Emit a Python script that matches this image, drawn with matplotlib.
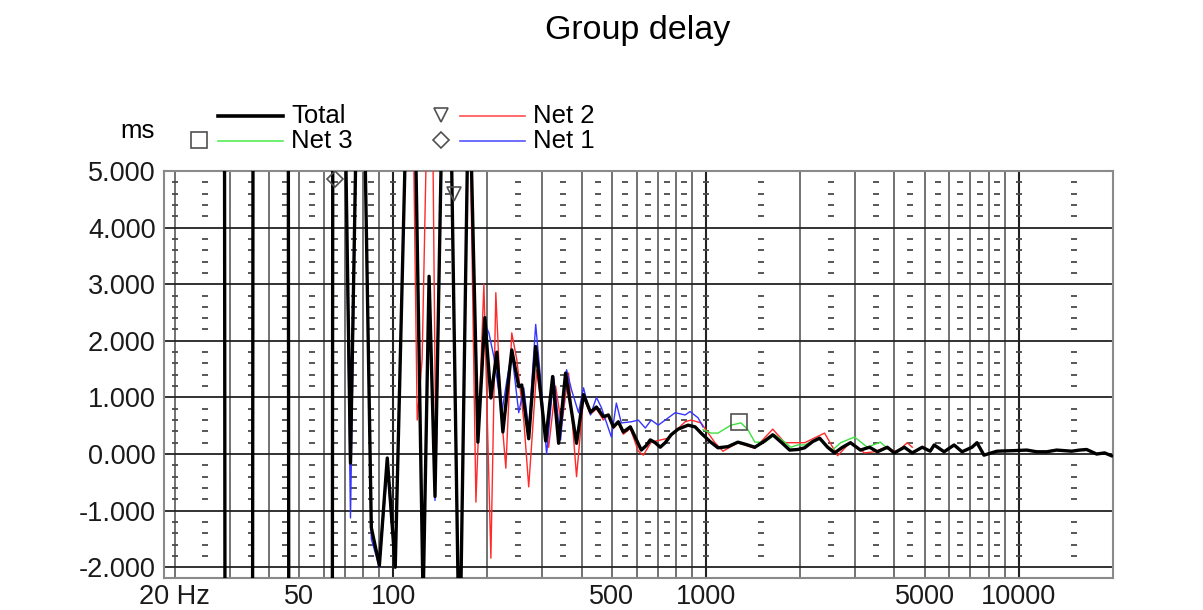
import numpy as np
import matplotlib.pyplot as plt
from matplotlib.lines import Line2D
from matplotlib.ticker import NullLocator

plt.rcParams['font.family'] = ['Liberation Sans', 'DejaVu Sans']

# Data (Hz, ms). +-40 / 6..8 mean the curve runs off scale.
freq_total = [18.5, 28.5, 29.4, 35.0, 36.1, 45.6, 47.0, 63.0, 64.9, 69.3,
              73.0, 77.4, 80.9, 85.1, 90.3, 95.7, 101.5, 110.0, 117.5, 124.6,
              130.2, 136.0, 144.3, 151.9, 162.9, 174.6, 186.5, 196.3, 205.2, 214.4,
              224.1, 239.3, 251.9, 257.5, 271.1, 285.4, 307.2, 323.3, 337.9, 355.6,
              385.5, 405.8, 427.1, 446.3, 469.8, 487.3, 505.5, 524.3, 543.9, 572.8,
              620.9, 644.2, 663.3, 688.0, 713.7, 740.4, 773.4, 814.3, 876.2, 922.6,
              964.1, 1030, 1092, 1175, 1264, 1341, 1432, 1530, 1634, 1746,
              1851, 1963, 2067, 2192, 2308, 2447, 2576, 2731, 2896, 3116,
              3330, 3531, 3798, 3998, 4303, 4563, 4911, 5207, 5362, 5769,
              6209, 6583, 7084, 7349, 7736, 8509, 9640, 10600, 11410, 12280,
              13210, 14750, 15640, 16470, 17720, 18790, 19780]
total_ms = [40, 40, -40, -40, 40, 40, -40, -40, 40, 8,
            -0.16, 8, 6, -1.3, -1.97, -0.07, -2.0, 6, 6, -2.6,
            3.14, -0.75, 7, 7, -4, 7, 0.21, 2.41, 0.99, 1.8,
            0.39, 1.84, 1.19, 1.22, 0.27, 1.9, 0.23, 1.37, 0.19, 1.43,
            0.19, 1.05, 0.74, 0.83, 0.66, 0.69, 0.48, 0.57, 0.39, 0.48,
            0.07, 0.15, 0.25, 0.2, 0.12, 0.2, 0.34, 0.44, 0.51, 0.48,
            0.37, 0.22, 0.11, 0.13, 0.21, 0.17, 0.12, 0.22, 0.34, 0.2,
            0.07, 0.08, 0.11, 0.22, 0.28, 0.12, 0.02, 0.12, 0.2, 0.07,
            0.12, 0.04, 0.12, 0.02, 0.12, 0.02, 0.12, 0.05, 0.16, 0.04,
            0.16, 0.04, 0.12, 0.2, -0.02, 0.05, 0.06, 0.07, 0.04, 0.04,
            0.07, 0.05, 0.07, 0.08, 0.0, 0.02, -0.03]

freq_net2 = [18.5, 28.5, 29.4, 35.0, 36.1, 45.6, 47.0, 63.0, 64.9, 69.3,
             73.0, 77.4, 80.9, 85.1, 90.3, 95.7, 101.5, 110.0, 115.8, 119.3,
             123.7, 129.3, 133.1, 137.0, 144.3, 151.9, 162.9, 174.6, 183.8, 194.9,
             205.2, 212.8, 220.8, 229.1, 239.3, 248.3, 261.4, 271.1, 287.5, 298.2,
             313.9, 330.5, 345.3, 363.5, 385.5, 405.8, 427.1, 446.3, 469.8, 487.3,
             505.5, 524.3, 543.9, 572.8, 607.4, 630.2, 668.0, 756.8, 857.4, 895.8,
             964.1, 1068, 1133, 1264, 1432, 1634, 1785, 2067, 2393, 2633,
             2896, 3209, 3453, 3716, 4087, 4399, 4563]
net2_ms = [40, 40, -40, -40, 40, 40, -40, -40, 40, 8,
           -0.3, 8, 6, -1.3, -1.97, -0.1, -2.0, 6, 6, 0.6,
           1.67, 7, 7, -0.4, 7, 7, -4, 7, -0.85, 3.0,
           -1.84, 2.85, 0.83, -0.25, 2.14, 1.67, 0.6, -0.58, 1.49, 0.82,
           0.12, 1.2, 0.5, 1.43, -0.4, 1.0, 0.7, 0.8, 0.6, 0.7,
           0.45, 0.55, 0.35, 0.45, 0.05, -0.02, 0.21, 0.28, 0.57, 0.6,
           0.55, 0.2, 0.05, 0.2, 0.1, 0.44, 0.2, 0.2, 0.37, -0.03,
           0.21, 0.02, 0.04, 0.11, 0.04, 0.2, 0.12]

freq_net1 = [18.5, 28.5, 29.4, 35.0, 36.1, 45.6, 47.0, 63.0, 64.9, 69.3,
             73.0, 77.4, 80.9, 85.1, 90.3, 95.7, 101.5, 110.0, 117.5, 124.6,
             130.2, 136.0, 144.3, 151.9, 162.9, 174.6, 186.5, 196.3, 202.2, 209.7,
             222.4, 230.8, 239.3, 251.9, 261.4, 271.1, 285.4, 296.0, 309.3, 325.7,
             342.8, 358.2, 371.7, 391.2, 405.8, 427.1, 446.3, 462.9, 498.2, 516.8,
             536.1, 577.0, 607.4, 639.5, 668.0, 703.4, 740.4, 796.7, 857.4, 889.2,
             943.0, 978.1]
net1_ms = [40, 40, -40, -40, 40, 40, -40, -40, 40, 8,
           -1.13, 8, 6, -1.5, -2.0, -0.3, -2.0, 6, 6, -2.6,
           3.0, -0.82, 7, 7, -4, 7, 0.25, 2.3, 2.14, 1.72,
           0.73, 1.3, 1.8, 0.73, 1.17, 0.43, 2.29, 1.31, 0.0, 1.37,
           0.25, 1.49, 1.13, 0.73, 1.17, 0.69, 1.0, 0.82, 0.3, 0.9,
           0.55, 0.57, 0.6, 0.46, 0.6, 0.51, 0.6, 0.73, 0.69, 0.75,
           0.64, 0.48]

freq_net3 = [978.1, 1037, 1092, 1201, 1293, 1361, 1432, 1541, 1659, 1785,
             1865, 1963, 2067, 2274, 2538, 2692, 2982, 3280, 3608, 3798]
net3_ms = [0.43, 0.37, 0.37, 0.51, 0.55, 0.43, 0.21, 0.21, 0.34, 0.21,
           0.12, 0.16, 0.16, 0.28, 0.07, 0.2, 0.3, 0.12, 0.21, 0.1]

# curve markers (Hz, ms)
net1_mark = (64.9, 4.86)
net2_mark = (156.0, 4.6)
net3_mark = (1274.0, 0.57)

xtick_vals = [20, 50, 100, 500, 1000, 5000, 10000]
xtick_labels = ['20 Hz', '50', '100', '500', '1000', '5000', '10000']
ytick_vals = [-2, -1, 0, 1, 2, 3, 4, 5]

W, H = 1203, 610
fig = plt.figure(figsize=(W / 100, H / 100), dpi=100)
ax = fig.add_axes([164 / W, 1 - 578 / H, (1113 - 164) / W, (578 - 171) / H])
ax.set_xscale('log')
ax.set_xlim(18.5, 20000)
ax.set_ylim(-2.19, 5.0)

# grid
for e in (1, 2, 3, 4):
    for m in range(1, 10):
        f = m * 10 ** e
        if 20 <= f < 20000:
            dec = (m == 1)
            ax.axvline(f, color='#222222' if dec else '#5a5a5a',
                       lw=1.5 if dec else 1.2, zorder=1)
for v in ytick_vals:
    ax.axhline(v, color='#222222', lw=1.3, zorder=1)

# little dash ticks inside the plot
dash_x = [20] + [m * 10 ** e for e in (1, 2, 3, 4)
                 for m in (1, 1.5, 2.5, 3.5, 4.5, 5.5, 6.5, 7.5, 8.5)
                 if 20 < m * 10 ** e < 20000]
dash_y = [k / 5 for k in range(-9, 25) if k % 5 != 0]
DX, DY = np.meshgrid(dash_x, dash_y)
ax.plot(DX.ravel(), DY.ravel(), ls='none', marker='_', ms=4.5, mew=1.3,
        color='#4a4a4a', zorder=1.5)

# curves
ax.plot(freq_net2, net2_ms, color='#ff2a2a', lw=1.0, zorder=3)
ax.plot(freq_net1, net1_ms, color='#3535ff', lw=1.0, zorder=3)
ax.plot(freq_net3, net3_ms, color='#3ee03e', lw=1.0, zorder=3)
ax.plot(freq_total, total_ms, color='black', lw=2.4, zorder=4,
        solid_joinstyle='round')

mk = dict(mfc='none', mec='#505050', mew=1.2, ls='none', zorder=5)
ax.plot(*net1_mark, marker='D', ms=8, **mk)
ax.plot(*net2_mark, marker='v', ms=10, **mk)
ax.plot(*net3_mark, marker='s', ms=11, **mk)

ax.set_xticks(xtick_vals)
ax.set_xticklabels(xtick_labels)
ax.xaxis.set_minor_locator(NullLocator())
ax.set_yticks(ytick_vals)
ax.set_yticklabels([f'{v:.3f}' for v in ytick_vals])
ax.tick_params(length=0, labelsize=19.5, colors='#1a1a1a')
ax.tick_params(axis='x', pad=4)
ax.tick_params(axis='y', pad=6)
for s in ax.spines.values():
    s.set_color('#8a8a8a')
    s.set_linewidth(1.5)

# title and legend, placed in figure pixels
def fx(px):
    return px / W

def fy(py):
    return 1 - py / H

fig.text(fx(638), fy(31), 'Group delay', ha='center', va='center', fontsize=24.5)
fig.text(fx(120), fy(131), 'ms', ha='left', va='center', fontsize=18.5)

legend_rows = [
    ('Total', 'black', 2.6, None, 218, 116),
    ('Net 3', '#55ee55', 1.2, 's', 218, 141),
    ('Net 2', '#ff5050', 1.2, 'v', 460, 116),
    ('Net 1', '#5555ff', 1.2, 'D', 460, 141),
]
for name, col, lw, m, x0, y0 in legend_rows:
    fig.add_artist(Line2D([fx(x0), fx(x0 + 65)], [fy(y0), fy(y0)],
                          color=col, lw=lw, transform=fig.transFigure))
    if m is not None:
        ms = {'s': 11, 'v': 10, 'D': 8}[m]
        fig.add_artist(Line2D([fx(x0 - 19)], [fy(y0 - 1)], marker=m, ms=ms,
                              mfc='none', mec='#505050', mew=1.2,
                              transform=fig.transFigure))
    fig.text(fx(x0 + 73), fy(y0), name, ha='left', va='center', fontsize=18.5)

fig.savefig('out.png', dpi=100)
